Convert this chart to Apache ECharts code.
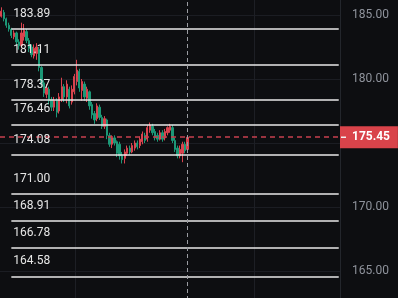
<!DOCTYPE html>
<html><head><meta charset="utf-8">
<style>html,body{margin:0;padding:0;background:#0d0e11;}#c{width:398px;height:298px;}</style>
<script src="https://cdn.jsdelivr.net/npm/echarts@6/dist/echarts.min.js"></script>
</head><body><div id="c"></div>
<script>
const openP  = [184.9,185.2,184.7,184.2,183.9,183.3,183.6,182.9,182.6,183.3,183.7,183.0,182.5,181.8,182.0,182.3,180.9,179.7,178.8,179.2,178.4,177.8,178.3,177.5,178.4,179.4,178.6,179.2,178.2,179.0,179.8,180.6,179.1,179.6,178.5,179.0,178.0,177.3,176.9,177.8,177.0,176.3,176.8,175.6,174.9,175.4,175.1,174.9,174.0,173.8,174.2,174.6,174.3,174.6,175.0,174.8,175.1,175.6,175.3,176.0,176.3,175.9,175.6,175.3,175.8,175.4,175.8,176.0,176.2,175.2,174.6,174.0,174.2,174.9,174.5];
const closeP = [185.3,184.7,184.2,183.9,183.4,183.6,182.9,182.6,183.6,183.8,183.0,182.4,181.9,182.4,182.5,180.9,179.6,178.9,179.3,178.3,177.8,178.3,177.4,178.6,179.4,178.6,179.6,177.9,179.2,180.2,180.7,179.3,179.8,178.6,179.2,177.9,177.2,176.8,177.9,177.0,176.3,176.9,175.6,174.9,175.4,175.0,174.2,174.0,173.7,174.3,174.6,174.3,174.8,175.0,174.7,175.3,175.7,175.2,176.2,176.4,175.8,175.4,175.3,175.8,175.3,175.9,176.2,176.3,175.2,174.5,174.0,174.5,174.9,174.4,175.45];
const highP  = [185.6,185.4,184.8,184.4,184.0,183.8,183.7,183.1,184.4,184.3,183.9,183.2,182.7,182.7,182.8,182.5,181.0,179.9,179.6,179.4,178.6,178.6,178.5,178.9,180.1,179.6,179.9,179.4,179.5,180.4,181.5,180.8,180.0,179.8,179.4,179.1,178.2,177.5,178.1,178.0,177.2,177.1,176.9,175.8,175.6,175.6,175.2,175.1,174.3,174.5,174.8,174.8,175.0,175.2,175.2,175.5,175.9,175.8,176.4,176.6,176.5,176.1,175.8,176.0,176.0,176.1,176.3,176.5,176.4,175.4,174.8,174.8,175.1,175.1,175.6];
const lowP   = [184.8,184.5,184.0,183.7,183.2,183.1,182.6,182.3,182.4,183.0,182.8,182.1,181.7,181.6,181.5,180.6,179.3,178.6,178.5,178.0,177.5,177.5,177.0,177.3,178.2,178.2,178.1,177.7,178.0,178.8,179.5,179.0,178.3,178.3,178.2,177.6,176.9,176.5,176.7,176.8,176.1,176.1,175.3,174.7,174.6,174.8,173.9,173.7,173.4,173.4,174.0,174.1,174.2,174.4,174.5,174.6,174.9,175.0,175.1,175.8,175.6,175.2,175.1,175.2,175.1,175.2,175.6,175.8,175.0,174.3,173.8,173.8,173.5,174.2,174.3];
const levels = [183.89,181.11,178.37,176.46,174.08,171.00,168.91,166.78,164.58];
const lastPrice = 175.45;
const slotCount = 135;
const categories = Array.from({length: slotCount}, (_, i) => String(i));

const candles = openP.map((o, i) => [o, closeP[i], lowP[i], highP[i]]);
const lastIdx = openP.length - 1;

const levelLines = levels.map(v => [
  {coord: [4, v], lineStyle: {color: '#e9e9e9', width: 1.5, type: 'solid'},
   label: {show: true, position: 'insideStartTop', formatter: v.toFixed(2), color: '#e6e6e6', fontSize: 12, fontFamily: 'Roboto', distance: [2, 9]}},
  {coord: [slotCount - 1, v]}
]);

const chart = echarts.init(document.getElementById('c'), null, {renderer: 'canvas'});
chart.setOption({
  backgroundColor: '#0d0e11',
  animation: false,
  grid: {left: 0, right: 58, top: -49, bottom: -37, containLabel: false, outerBoundsMode: 'none'},
  xAxis: {
    type: 'category', data: categories, boundaryGap: true,
    axisLine: {show: false}, axisTick: {show: false}, axisLabel: {show: false},
    splitLine: {show: true, interval: (i) => i === 30 || i === 101, lineStyle: {color: '#1d1f25', width: 1}}
  },
  yAxis: {
    type: 'value', position: 'right', min: 160, max: 190, interval: 5,
    axisLine: {show: true, lineStyle: {color: '#23262c'}},
    axisTick: {show: false},
    axisLabel: {color: '#8f939c', fontSize: 12, fontFamily: 'Roboto', margin: 12, formatter: v => v.toFixed(2)},
    splitLine: {show: true, lineStyle: {color: '#1b1d23', width: 1}}
  },
  series: [{
    type: 'candlestick',
    data: candles,
    barWidth: 1.8,
    itemStyle: {color: '#d9434e', color0: '#1c9877', borderColor: '#d9434e', borderColor0: '#1c9877', borderWidth: 1},
    markLine: {
      silent: true, symbol: ['none', 'none'], animation: false,
      data: [
        ...levelLines,
        {xAxis: lastIdx, lineStyle: {color: '#9a9ca2', width: 1, type: [4, 3]}, label: {show: false}}
      ]
    }
  }, {
    type: 'line',
    data: [],
    color: '#c8404f',
    markLine: {
      silent: true, symbol: ['none', 'none'], animation: false,
      lineStyle: {color: '#c8404f', width: 1.6, type: [5, 4]},
      label: {show: true, position: 'end', distance: 0,
        formatter: '{d|}{v|' + lastPrice.toFixed(2) + '}',
        backgroundColor: '#d9434a', padding: [5, 8, 5, 1],
        rich: {
          d: {width: 5, height: 1.5, backgroundColor: '#f0f0f0'},
          v: {color: '#ffffff', fontWeight: 'bold', fontSize: 12, fontFamily: 'Roboto', lineHeight: 12, padding: [0, 0, 0, 6]}
        }},
      data: [{yAxis: lastPrice}]
    }
  }]
});
</script></body></html>
